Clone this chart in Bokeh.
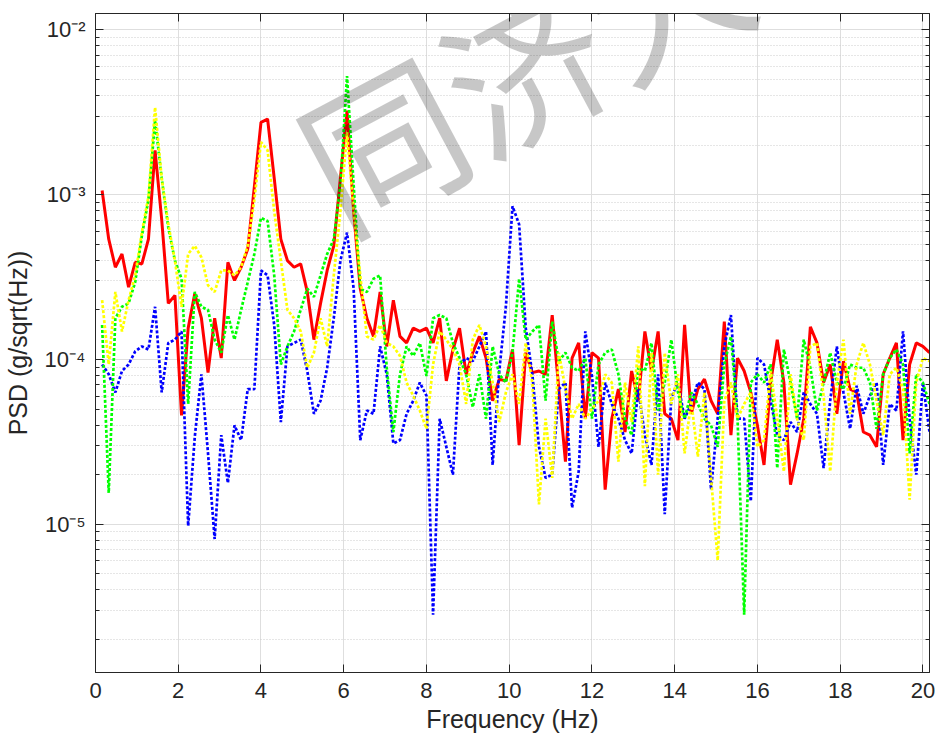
import numpy as np
from bokeh.plotting import figure
from bokeh.models import (FixedTicker, CustomJSTickFormatter, LogAxis, LinearAxis,
                          Label, Range1d)
from bokeh.embed import file_html
from bokeh.resources import INLINE

# frequency bins (Hz): 0.16 Hz spacing, 126 bins
freq = [round(0.16 * k, 2) for k in range(1, 127)]

red = [1.06e-3, 5.37e-4, 3.63e-4, 4.37e-4, 2.75e-4, 3.89e-4, 3.80e-4, 5.37e-4, 1.86e-3, 7.08e-4,
       2.19e-4, 2.45e-4, 4.57e-5, 1.55e-4, 2.51e-4, 1.78e-4, 8.32e-5, 1.78e-4, 1.02e-4, 3.89e-4,
       3.02e-4, 3.63e-4, 4.68e-4, 1.12e-3, 2.75e-3, 2.88e-3, 1.26e-3, 5.37e-4, 3.98e-4, 3.63e-4,
       3.80e-4, 2.57e-4, 1.32e-4, 2.19e-4, 3.47e-4, 4.90e-4, 1.26e-3, 3.24e-3, 7.94e-4, 2.69e-4,
       1.78e-4, 1.38e-4, 2.57e-4, 1.20e-4, 2.29e-4, 1.38e-4, 1.26e-4, 1.55e-4, 1.48e-4, 1.55e-4,
       1.26e-4, 1.78e-4, 7.41e-5, 1.15e-4, 1.55e-4, 8.13e-5, 1.10e-4, 1.38e-4, 1.02e-4, 5.62e-5,
       7.59e-5, 7.41e-5, 1.15e-4, 3.02e-5, 1.10e-4, 8.32e-5, 8.51e-5, 8.13e-5, 1.86e-4, 6.61e-5,
       2.40e-5, 1.02e-4, 1.26e-4, 4.37e-5, 1.10e-4, 1.02e-4, 1.62e-5, 4.37e-5, 6.61e-5, 3.63e-5,
       8.51e-5, 5.62e-5, 1.48e-4, 8.51e-5, 1.48e-4, 4.68e-5, 4.37e-5, 3.24e-5, 1.62e-4, 4.68e-5,
       6.61e-5, 7.59e-5, 5.62e-5, 4.68e-5, 1.70e-4, 3.47e-5, 1.02e-4, 8.51e-5, 6.31e-5, 3.98e-5,
       2.29e-5, 7.24e-5, 1.32e-4, 7.24e-5, 1.74e-5, 2.69e-5, 4.37e-5, 1.58e-4, 1.26e-4, 7.24e-5,
       9.33e-5, 4.68e-5, 9.77e-5, 6.61e-5, 6.31e-5, 3.63e-5, 3.47e-5, 2.95e-5, 8.13e-5, 1.02e-4,
       1.26e-4, 3.24e-5, 9.33e-5, 1.26e-4, 1.20e-4, 1.10e-4]

yellow = [2.29e-4, 9.33e-5, 2.57e-4, 1.48e-4, 2.29e-4, 3.24e-4, 5.89e-4, 9.77e-4, 3.39e-3, 1.26e-3,
          6.61e-4, 3.98e-4, 2.09e-4, 4.37e-4, 4.90e-4, 4.17e-4, 2.82e-4, 2.57e-4, 3.47e-4, 3.47e-4,
          3.24e-4, 3.63e-4, 4.90e-4, 9.33e-4, 2.09e-3, 1.86e-3, 7.94e-4, 3.98e-4, 2.00e-4, 1.78e-4,
          1.48e-4, 8.91e-5, 1.10e-4, 1.78e-4, 1.20e-4, 3.24e-4, 7.94e-4, 2.40e-3, 7.94e-4, 3.24e-4,
          1.38e-4, 1.32e-4, 1.62e-4, 1.26e-4, 1.20e-4, 1.05e-4, 7.24e-5, 6.03e-5, 4.90e-5, 3.80e-5,
          9.33e-5, 1.48e-4, 1.32e-4, 1.15e-4, 9.33e-5, 5.37e-5, 1.32e-4, 1.62e-4, 1.20e-4, 7.24e-5,
          4.17e-5, 6.31e-5, 8.13e-5, 5.37e-5, 1.26e-4, 7.24e-5, 1.32e-5, 4.37e-5, 1.91e-5, 1.10e-4,
          6.61e-5, 4.37e-5, 5.37e-5, 4.37e-5, 5.01e-5, 5.62e-5, 8.13e-5, 7.24e-5, 2.40e-5, 7.24e-5,
          4.17e-5, 1.20e-4, 1.70e-5, 1.10e-4, 2.00e-5, 1.10e-4, 5.37e-5, 8.13e-5, 2.69e-5, 5.62e-5,
          2.57e-5, 6.31e-5, 1.91e-5, 6.03e-6, 5.62e-5, 7.24e-5, 4.37e-5, 5.37e-5, 6.31e-5, 2.95e-5,
          3.24e-5, 8.51e-5, 4.37e-5, 2.09e-5, 8.13e-5, 4.37e-5, 3.24e-5, 1.20e-4, 1.26e-4, 6.03e-5,
          2.09e-5, 7.24e-5, 1.32e-4, 4.68e-5, 9.33e-5, 1.26e-4, 9.33e-5, 5.62e-5, 3.47e-5, 8.13e-5,
          8.91e-5, 6.61e-5, 1.41e-5, 7.24e-5, 1.02e-4, 9.77e-5]

green = [1.62e-4, 1.55e-5, 1.78e-4, 2.09e-4, 2.19e-4, 2.95e-4, 5.62e-4, 9.33e-4, 2.82e-3, 1.26e-3,
         6.31e-4, 3.98e-4, 3.09e-4, 5.37e-5, 2.57e-4, 2.09e-4, 2.00e-4, 1.32e-4, 1.10e-4, 1.86e-4,
         1.32e-4, 2.00e-4, 2.95e-4, 4.37e-4, 7.24e-4, 6.92e-4, 3.24e-4, 9.33e-5, 1.20e-4, 1.48e-4,
         2.00e-4, 2.69e-4, 2.40e-4, 3.24e-4, 4.37e-4, 5.37e-4, 1.15e-3, 5.25e-3, 1.15e-3, 2.69e-4,
         2.57e-4, 3.09e-4, 3.24e-4, 8.91e-5, 3.63e-5, 8.13e-5, 1.20e-4, 1.05e-4, 1.26e-4, 7.94e-5,
         1.78e-4, 1.86e-4, 1.78e-4, 1.26e-4, 1.02e-4, 8.13e-5, 5.13e-5, 8.13e-5, 4.37e-5, 1.20e-4,
         8.13e-5, 7.24e-5, 1.10e-4, 3.09e-4, 1.32e-4, 1.48e-4, 1.62e-4, 5.62e-5, 1.70e-4, 9.77e-5,
         1.10e-4, 8.91e-5, 8.51e-5, 1.02e-4, 4.37e-5, 9.33e-5, 1.10e-4, 1.15e-4, 8.13e-5, 4.37e-5,
         3.47e-5, 8.91e-5, 8.51e-5, 1.26e-4, 4.90e-5, 7.24e-5, 1.32e-4, 6.31e-5, 4.37e-5, 6.31e-5,
         5.37e-5, 4.37e-5, 3.98e-5, 2.95e-5, 9.33e-5, 1.38e-4, 4.37e-5, 2.82e-6, 7.24e-5, 8.13e-5,
         7.24e-5, 9.33e-5, 2.19e-5, 1.15e-4, 7.24e-5, 4.37e-5, 1.32e-4, 8.91e-5, 4.90e-5, 7.24e-5,
         1.10e-4, 7.24e-5, 6.61e-5, 9.33e-5, 8.91e-5, 8.91e-5, 7.24e-5, 3.80e-5, 8.13e-5, 1.02e-4,
         1.15e-4, 9.33e-5, 2.69e-5, 8.13e-5, 7.24e-5, 5.37e-5]

blue = [9.33e-5, 8.13e-5, 6.31e-5, 8.51e-5, 9.33e-5, 1.12e-4, 1.20e-4, 1.15e-4, 2.09e-4, 6.31e-5,
        1.26e-4, 1.32e-4, 1.48e-4, 9.77e-6, 3.39e-5, 8.13e-5, 2.69e-5, 8.13e-6, 3.47e-5, 1.78e-5,
        3.98e-5, 3.24e-5, 6.61e-5, 6.61e-5, 3.47e-4, 3.24e-4, 1.62e-4, 4.17e-5, 1.20e-4, 1.26e-4,
        1.32e-4, 8.51e-5, 4.68e-5, 5.62e-5, 8.91e-5, 1.78e-4, 3.98e-4, 5.89e-4, 2.69e-4, 3.24e-5,
        4.90e-5, 4.68e-5, 1.20e-4, 8.13e-5, 3.09e-5, 3.24e-5, 4.68e-5, 5.62e-5, 7.24e-5, 6.03e-5,
        2.82e-6, 4.37e-5, 2.95e-5, 2.00e-5, 9.33e-5, 1.02e-4, 9.77e-5, 1.20e-4, 1.48e-4, 2.29e-5,
        8.51e-5, 2.09e-4, 8.51e-4, 6.61e-4, 1.55e-4, 8.13e-5, 2.95e-5, 1.91e-5, 2.00e-5, 6.61e-5,
        7.24e-5, 1.26e-5, 2.09e-5, 1.48e-4, 7.94e-5, 2.95e-5, 7.24e-5, 5.37e-5, 4.37e-5, 3.24e-5,
        2.69e-5, 6.61e-5, 3.47e-5, 2.29e-5, 8.13e-5, 1.15e-5, 5.89e-5, 7.24e-5, 4.37e-5, 5.37e-5,
        7.24e-5, 6.61e-5, 1.62e-5, 4.37e-5, 1.20e-4, 1.86e-4, 4.37e-5, 4.37e-5, 1.38e-5, 1.02e-4,
        9.33e-5, 5.62e-5, 3.47e-5, 3.24e-5, 4.17e-5, 3.63e-5, 6.31e-5, 5.37e-5, 4.68e-5, 2.19e-5,
        5.62e-5, 1.20e-4, 6.31e-5, 3.80e-5, 6.92e-5, 4.68e-5, 6.03e-5, 7.24e-5, 2.29e-5, 5.37e-5,
        4.90e-5, 1.48e-4, 4.37e-5, 2.00e-5, 7.24e-5, 3.63e-5]

xticks = [0, 2, 4, 6, 8, 10, 12, 14, 16, 18, 20]
yticks = [1e-5, 1e-4, 1e-3, 1e-2]
ytick_labels = ["10\u207b\u2075", "10\u207b\u2074", "10\u207b\u00b3", "10\u207b\u00b2"]
yminor = [m * 10.0 ** e for e in range(-6, -1) for m in range(2, 10)]

x_label = "Frequency (Hz)"
y_label = "PSD (g/sqrt(Hz))"
watermark = "同济大"

AX = "#262626"
FONT = "Liberation Sans"

p = figure(width=936, height=744, y_axis_type="log",
           x_range=Range1d(0, freq[-1]), y_range=Range1d(10 ** -5.9, 10 ** -1.9),
           output_backend="svg", toolbar_location=None,
           min_border_left=93, min_border_right=7, min_border_top=13, min_border_bottom=72)
p.background_fill_color = "white"
p.border_fill_color = "white"
p.outline_line_color = AX
p.outline_line_width = 1

yticker = FixedTicker(ticks=yticks, minor_ticks=yminor)
xticker = FixedTicker(ticks=xticks, minor_ticks=[])
yfmt = CustomJSTickFormatter(args=dict(vals=yticks, labs=ytick_labels), code="""
let best = 0, bd = Infinity;
for (let i = 0; i < vals.length; i++) {
  const d = Math.abs(Math.log10(tick) - Math.log10(vals[i]));
  if (d < bd) { bd = d; best = i; }
}
return labs[best];
""")

for ax in p.xaxis:
    ax.ticker = xticker
for ax in p.yaxis:
    ax.ticker = yticker
    ax.formatter = yfmt

def style(ax, labels=True):
    ax.axis_line_color = AX
    ax.axis_line_width = 1
    ax.major_tick_line_color = AX
    ax.minor_tick_line_color = AX
    ax.major_tick_in = 8
    ax.major_tick_out = 0
    ax.minor_tick_in = 4
    ax.minor_tick_out = 0
    ax.major_label_text_color = AX
    ax.major_label_text_font = FONT
    ax.major_label_text_font_size = "22px"
    ax.axis_label_text_color = AX
    ax.axis_label_text_font = FONT
    ax.axis_label_text_font_size = "25px"
    ax.axis_label_text_font_style = "normal"
    if not labels:
        ax.major_label_text_font_size = "2px"
        ax.major_label_text_color = None
        ax.major_label_standoff = 0

style(p.xaxis[0])
style(p.yaxis[0])
p.xaxis[0].minor_tick_line_color = None
p.xaxis[0].axis_label = x_label
p.yaxis[0].axis_label = y_label
p.xaxis[0].major_label_standoff = 10
p.xaxis[0].axis_label_standoff = 4
p.yaxis[0].major_label_standoff = 10
p.yaxis[0].axis_label_standoff = 10

top = LinearAxis(ticker=xticker)
style(top, labels=False)
top.minor_tick_line_color = None
p.add_layout(top, "above")
right = LogAxis(ticker=yticker)
style(right, labels=False)
p.add_layout(right, "right")

p.xgrid.ticker = xticker
p.ygrid.ticker = yticker
for g in (p.xgrid[0], p.ygrid[0]):
    g.grid_line_color = "#dedede"
    g.grid_line_width = 1
p.ygrid[0].minor_grid_line_color = "#cccccc"
p.ygrid[0].minor_grid_line_dash = "1 2"
p.ygrid[0].minor_grid_line_width = 1

p.line(freq, red, line_color="#ff0000", line_width=3)
p.line(freq, blue, line_color="#0000ff", line_width=2.7, line_dash="3 2")
p.line(freq, green, line_color="#00ff00", line_width=2.7, line_dash="3 2")
p.line(freq, yellow, line_color="#ffff00", line_width=2.7, line_dash="3 2")

wm = Label(x=10.3, y=6.3e-3, text=watermark, angle=28, angle_units="deg",
           text_font="Noto Sans CJK SC", text_font_size="160px",
           text_color="black", text_alpha=0.22,
           text_align="center", text_baseline="middle")
p.add_layout(wm)

open("out.html", "w").write(file_html(p, INLINE))
